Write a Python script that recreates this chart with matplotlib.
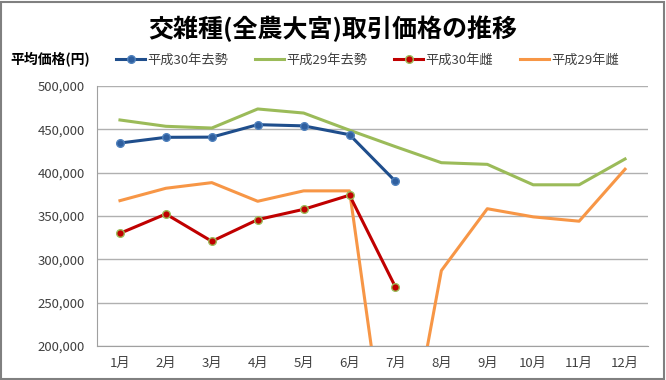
import matplotlib
matplotlib.use("Agg")
import matplotlib.pyplot as plt
from matplotlib.patches import Rectangle
from matplotlib.ticker import FuncFormatter, MultipleLocator

plt.rcParams['font.family'] = ['Noto Sans CJK JP', 'DejaVu Sans']

months = ['1月', '2月', '3月', '4月', '5月', '6月', '7月', '8月', '9月', '10月', '11月', '12月']
h30_steer = [434200, 440800, 441000, 455400, 454000, 443800, 390000]
h29_steer = [460800, 453500, 451500, 473500, 468800, 449000, 430000, 411500, 409600, 386000, 386000, 415800]
h30_heifer = [330000, 352300, 320800, 345800, 357700, 374000, 268000]
h29_heifer = [367700, 382000, 388500, 367000, 379000, 379000, 0, 287000, 358400, 349000, 344000, 404000]
series_names = ['平成30年去勢', '平成29年去勢', '平成30年雌', '平成29年雌']

title = '交雑種(全農大宮)取引価格の推移'
ylabel = '平均価格(円)'

c_blue = '#1F4E8C'
c_green = '#9BBB59'
c_red = '#C00000'
c_orange = '#F79646'

fig = plt.figure(figsize=(6.66, 3.8), dpi=100)
ax = fig.add_axes([97/666, 1-346/380, (648-97)/666, (346-86)/380])

x_all = list(range(len(months)))
ax.plot(x_all[:len(h30_steer)], h30_steer, color=c_blue, lw=2.2, marker='o', ms=5.5,
        mfc='#2F5F9F', mec='#4F81BD', mew=1, zorder=4, label=series_names[0])
ax.plot(x_all, h29_steer, color=c_green, lw=2.2, zorder=3, label=series_names[1])
ax.plot(x_all[:len(h30_heifer)], h30_heifer, color=c_red, lw=2.2, marker='o', ms=5.5,
        mfc=c_red, mec=c_green, mew=1, zorder=4, label=series_names[2])
ax.plot(x_all, h29_heifer, color=c_orange, lw=2.2, zorder=3, label=series_names[3])

ax.set_xlim(-0.5, 11.5)
ax.set_ylim(200000, 500000)
ax.yaxis.set_major_locator(MultipleLocator(50000))
ax.yaxis.set_major_formatter(FuncFormatter(lambda v, p: f'{int(v):,}'))
ax.set_xticks(x_all)
ax.set_xticklabels(months)
ax.grid(axis='y', color='#B0B0B0', lw=1)
ax.set_axisbelow(True)
for s in ['top', 'right']:
    ax.spines[s].set_visible(False)
ax.spines['left'].set_color('#A0A0A0')
ax.spines['bottom'].set_color('#A0A0A0')
ax.tick_params(axis='both', length=0, labelsize=9.5, colors='#404040')
ax.tick_params(axis='x', pad=8)
ax.tick_params(axis='y', pad=9)

fig.text(0.5, 1-29/380, title, ha='center', va='center', fontsize=18, fontweight='bold', color='#000000')
fig.text(10/666, 1-60/380, ylabel, ha='left', va='center', fontsize=10, fontweight='bold', color='#000000')

handles, labels = ax.get_legend_handles_labels()
fig.legend(handles, labels, loc='center', bbox_to_anchor=(0.552, 1-60/380), ncol=4,
           frameon=False, fontsize=9.5, handlelength=2.2, columnspacing=2.0, handletextpad=0.2,
           labelcolor='#404040')

fig.patches.append(Rectangle((0.002, 0.003), 0.995, 0.993, transform=fig.transFigure,
                             fill=False, edgecolor='#808080', lw=1.5))

fig.savefig('out.png', dpi=100)
